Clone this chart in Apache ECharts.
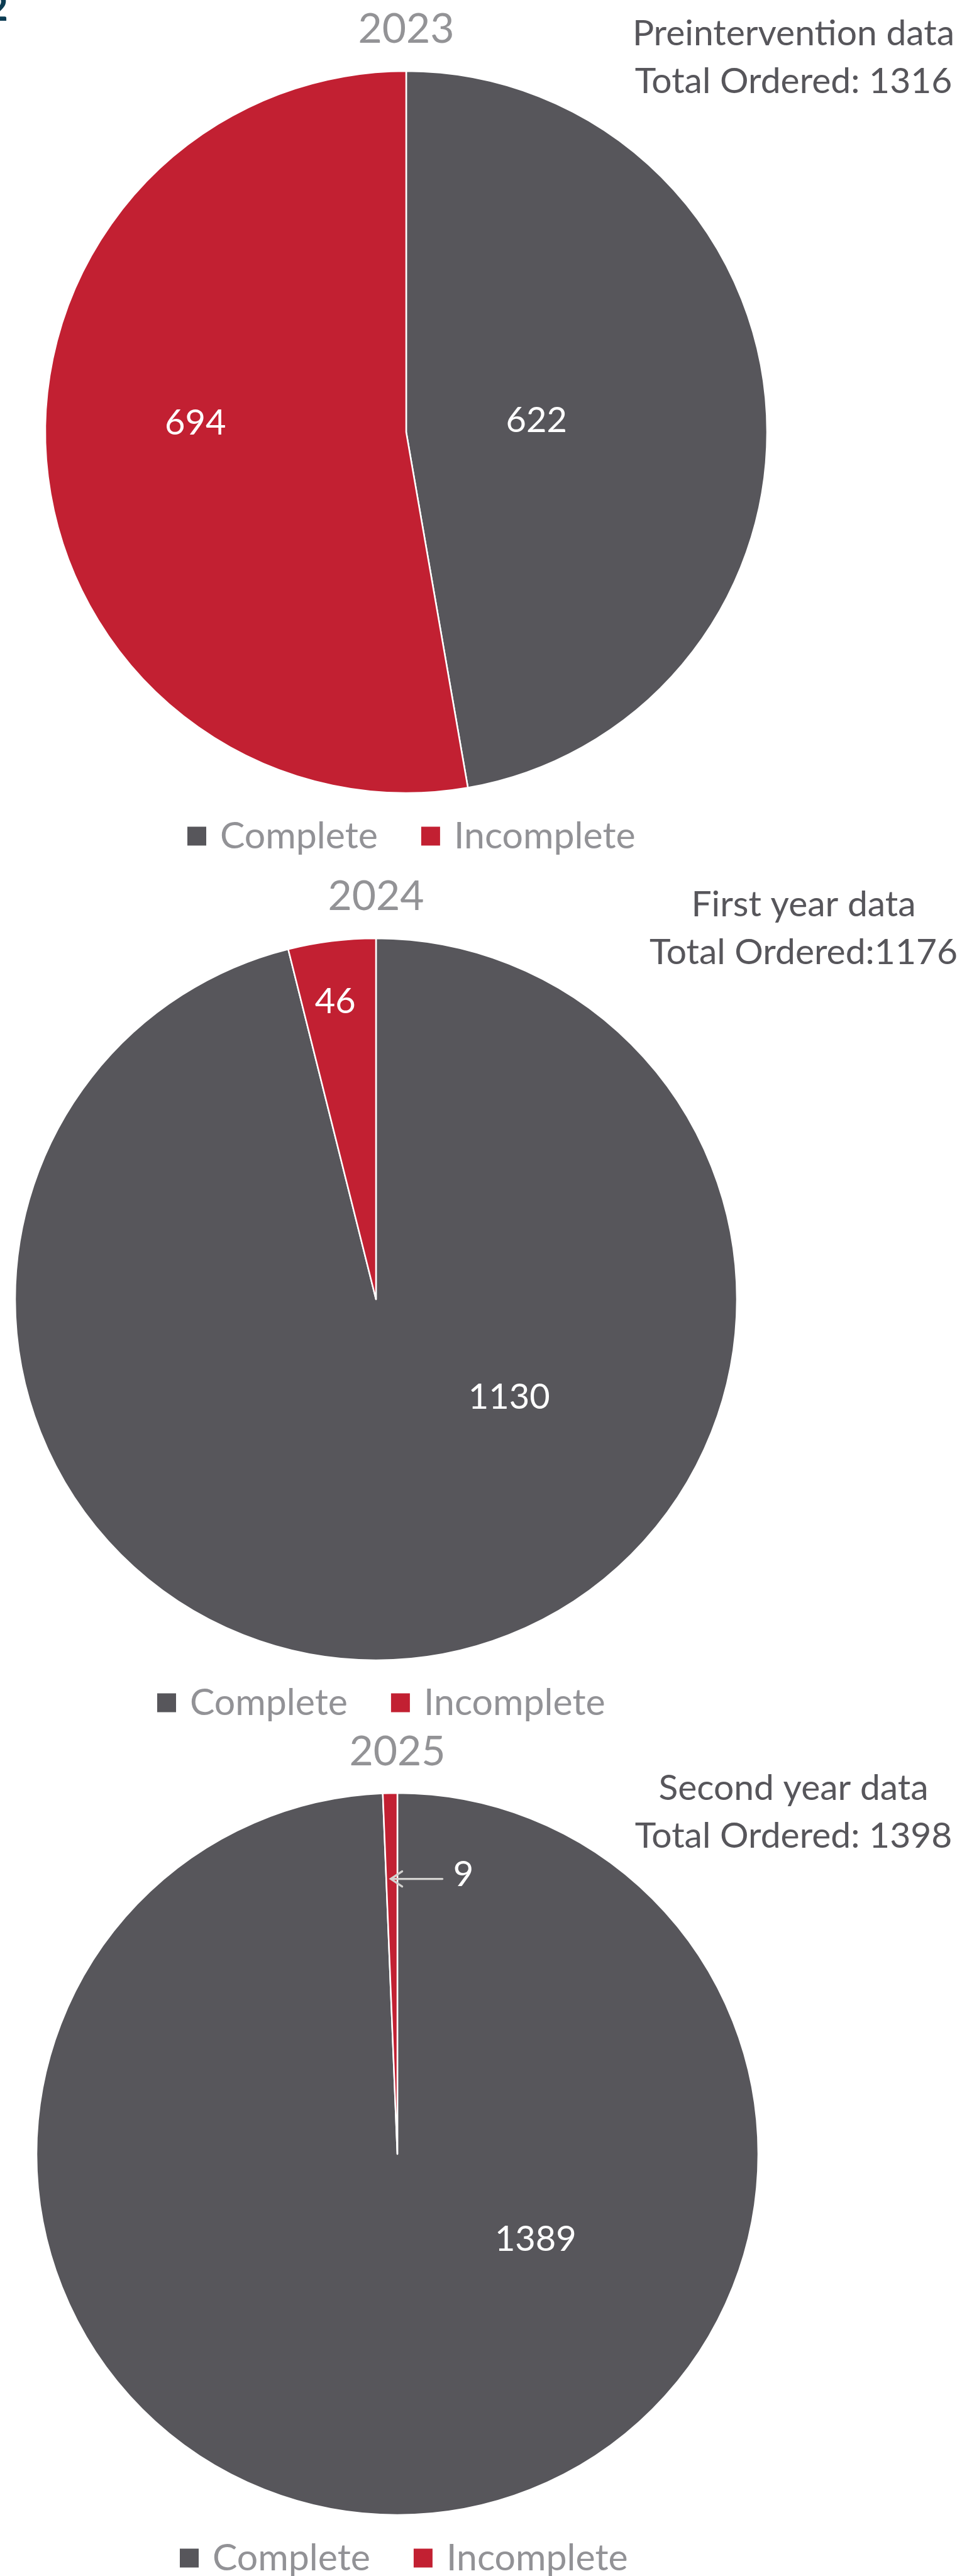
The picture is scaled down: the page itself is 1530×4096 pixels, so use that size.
<!DOCTYPE html>
<html>
<head>
<meta charset="utf-8">
<script src="https://cdn.jsdelivr.net/npm/echarts@6/dist/echarts.min.js"></script>
<style>
  html, body { margin: 0; padding: 0; background: #fff; }
  #chart { width: 1530px; height: 4096px; }
</style>
</head>
<body>
<div id="chart"></div>
<script>
  'use strict';

  // data
  var years = ['2023', '2024', '2025'];
  var categories = ['Complete', 'Incomplete'];
  var complete = [622, 1130, 1389];
  var incomplete = [694, 46, 9];
  var periodNames = ['Preintervention data', 'First year data', 'Second year data'];
  var totalNames = ['Total Ordered: 1316', 'Total Ordered:1176', 'Total Ordered: 1398'];

  // layout of the three panels (px)
  var R = 574;
  var panels = [
    { cx: 646, cy: 687, yearY: 47, noteX: 1262, noteY: 16, legendX: 296, legendY: 1320,
      labels: [[0.361, -0.031], [-0.584, -0.024]] },
    { cx: 598, cy: 2066, yearY: 1426, noteX: 1278, noteY: 1401, legendX: 248, legendY: 2698,
      labels: [[0.369, 0.272], [-0.113, -0.824]] },
    { cx: 632, cy: 3425, yearY: 2786, noteX: 1262, noteY: 2806, legendX: 284, legendY: 4058,
      labels: [[0.383, 0.237], [0.183, -0.774]] }
  ];

  var GREY = '#57565b';
  var RED = '#c22032';
  var FONT = 'Lato';

  var titles = [], legends = [], series = [];

  panels.forEach(function (p, i) {
    titles.push({
      text: years[i],
      left: p.cx, top: p.yearY - 40, textAlign: 'center', padding: 0,
      textStyle: { fontFamily: FONT, fontSize: 66, fontWeight: 'normal', color: '#939396', lineHeight: 80 }
    });
    titles.push({
      text: periodNames[i] + '\n' + totalNames[i],
      left: p.noteX, top: p.noteY, textAlign: 'center', padding: 0,
      textStyle: { fontFamily: FONT, fontSize: 57, fontWeight: 'normal', color: '#57565b', lineHeight: 76, align: 'center' }
    });
    legends.push({
      data: categories,
      left: p.legendX, top: p.legendY - 20, padding: 0,
      icon: 'rect', itemWidth: 32, itemHeight: 32, itemGap: 67,
      selectedMode: false,
      textStyle: { fontFamily: FONT, fontSize: 59, color: '#929296', lineHeight: 40, padding: [0, 0, 0, 16] }
    });
    series.push({
      type: 'pie',
      center: [p.cx, p.cy],
      radius: R,
      startAngle: 90,
      clockwise: true,
      avoidLabelOverlap: false,
      silent: true,
      itemStyle: { borderColor: '#ffffff', borderWidth: 2.5 },
      label: {
        show: true, position: 'inside', formatter: '{c}',
        fontFamily: FONT, fontSize: 56, color: '#ffffff'
      },
      labelLine: { show: false },
      labelLayout: function (params) {
        var off = p.labels[params.dataIndex];
        return {
          x: p.cx + off[0] * R, y: p.cy + off[1] * R,
          align: 'center', verticalAlign: 'middle'
        };
      },
      data: [
        { name: categories[0], value: complete[i], itemStyle: { color: GREY } },
        { name: categories[1], value: incomplete[i], itemStyle: { color: RED } }
      ]
    });
  });

  // arrow pointing at the thin 2025 slice
  var p3 = panels[2];
  var tipX = p3.cx - 0.02 * R, tipY = p3.cy - 0.762 * R;
  var arrowStyle = { stroke: '#d3d2d0', lineWidth: 3.4, lineCap: 'round', fill: null };

  var option = {
    animation: false,
    backgroundColor: '#ffffff',
    color: [GREY, RED],
    title: titles,
    legend: legends,
    series: series,
    graphic: [
      { type: 'line', z: 100, shape: { x1: tipX + 2, y1: tipY, x2: tipX + 83, y2: tipY }, style: arrowStyle },
      { type: 'polyline', z: 100, shape: { points: [[tipX + 19, tipY - 12], [tipX + 1, tipY], [tipX + 19, tipY + 12]] }, style: arrowStyle },
      // fragment of a heading cut off at the top-left corner
      { type: 'text', z: 100, left: -22, top: -16,
        style: { text: '2', fontFamily: FONT, fontWeight: 'bold', fontSize: 60, fill: '#0c3c53' } }
    ]
  };

  var chart = echarts.init(document.getElementById('chart'));
  chart.setOption(option);
</script>
</body>
</html>
